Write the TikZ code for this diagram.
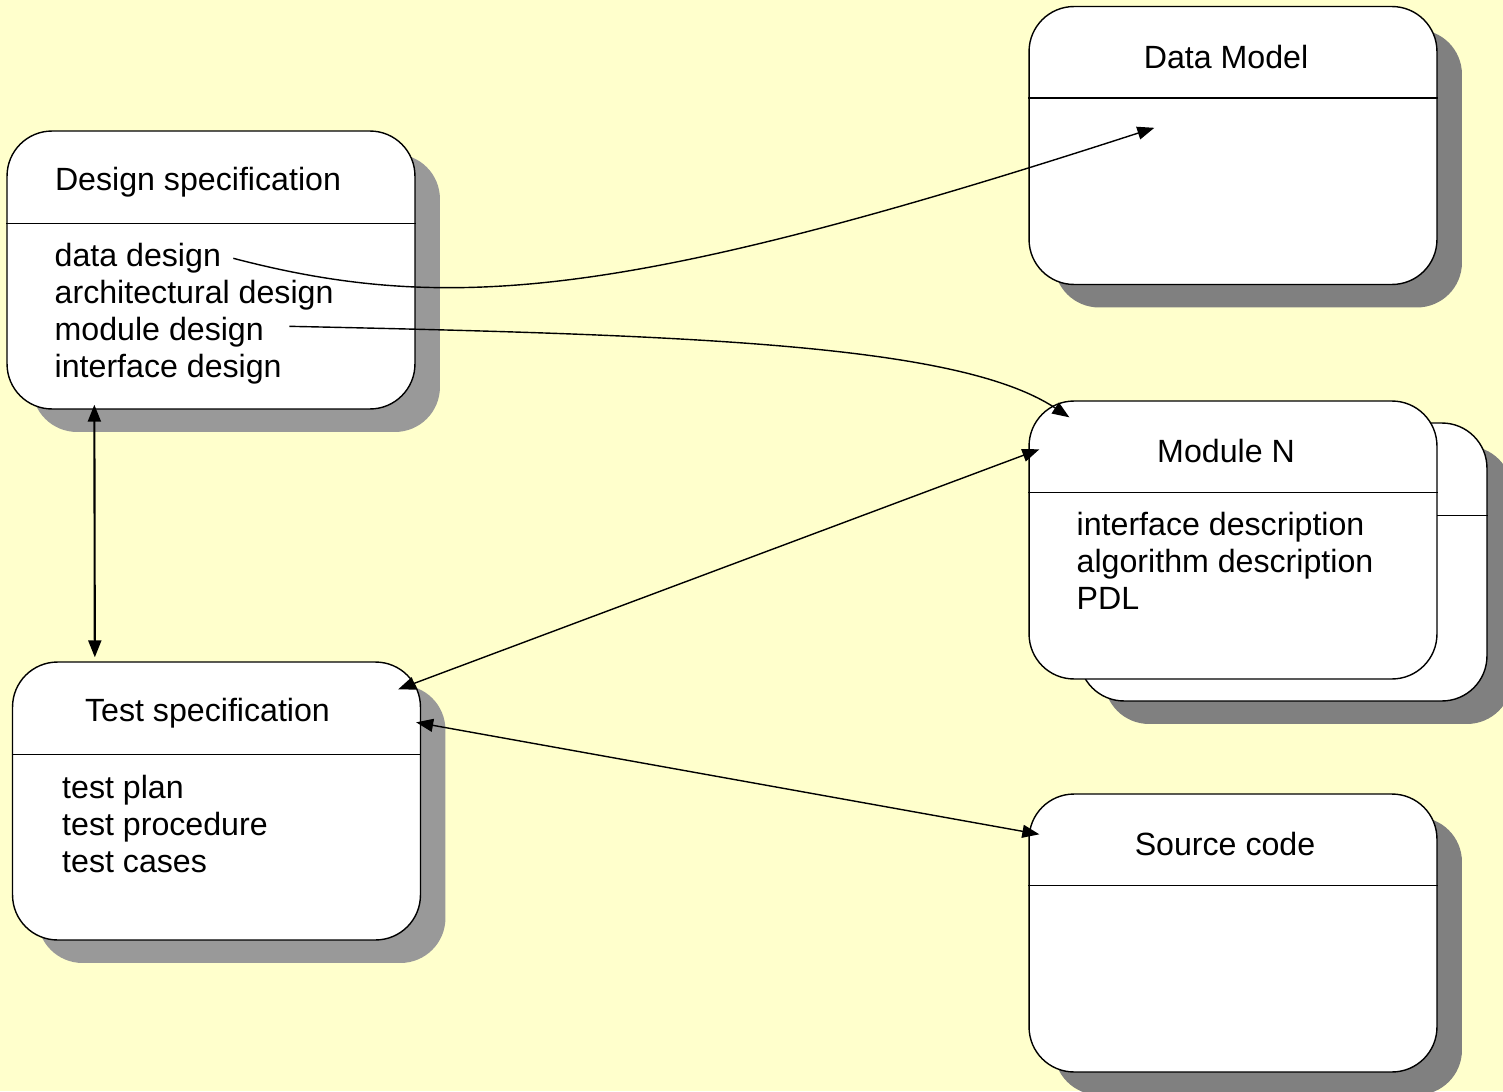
\documentclass[tikz,border=0pt]{standalone}
\usepackage{fontspec}
\setmainfont{Liberation Sans}
\setsansfont{Liberation Sans}
\usetikzlibrary{
  positioning,
  calc,
  shadows,
  arrows.meta}
\definecolor{bgcolor}{RGB}{255,255,204}
\definecolor{shadowlight}{RGB}{153,153,153}
\definecolor{shadowdark}{RGB}{128,128,128}
\tikzset{
  %% classbox : a rounded box with a heading
  classbox/.style={
    rectangle,
    rounded corners=0.9cm,
    draw=black,
    fill=white,
    line width=0.8pt,
    minimum width=8.16cm,
    minimum height=5.56cm
  },
  %% lightshadow : shadow of the boxes on the left
  lightshadow/.style={
    drop shadow={shadow xshift=0.5cm, shadow yshift=-0.46cm,
      fill=shadowlight, opacity=1}
  },
  %% darkshadow : shadow of the boxes on the right
  darkshadow/.style={
    drop shadow={shadow xshift=0.5cm, shadow yshift=-0.46cm,
      fill=shadowdark, opacity=1}
  },
  %% divider : line under the heading
  divider/.style={line width=0.8pt},
  %% boxtitle : heading of a box
  boxtitle/.style={anchor=center, inner sep=0pt},
  %% boxitems : contents of a box
  boxitems/.style={anchor=north west, align=left, inner sep=0pt},
  %% link : one way connection
  link/.style={
    line width=0.8pt,
    -{Triangle[length=0.34cm, width=0.26cm]}
  },
  %% dlink : two way connection
  dlink/.style={
    line width=0.8pt,
    {Triangle[length=0.34cm, width=0.26cm]}-{Triangle[length=0.34cm, width=0.26cm]}
  }
}

\begin{document}
\begin{tikzpicture}
  [x=0.02cm,
  y=-0.02cm,
  font=\fontsize{18.3}{21}\selectfont]
  \sffamily

  %% Background
  \fill [bgcolor] (0, 0) rectangle (1503, 1091);

  %% Design specification
  \node (design) [classbox, lightshadow] at (211, 270) {};
  \draw [divider] ($(design.north west) + (0, 93)$) --
  ($(design.north east) + (0, 93)$);
  \node (design-title) [boxtitle] at ($(design.north) + (-13, 52)$)
  {Design specification};
  \node (design-items) [boxitems] at ($(design.north west) + (48, 113)$){%
    data design\\
    architectural design\\
    module design\\
    interface design};

  %% Test specification
  \node (test) [classbox, lightshadow] at (216.5, 801) {};
  \draw [divider] ($(test.north west) + (0, 93)$) --
  ($(test.north east) + (0, 93)$);
  \node (test-title) [boxtitle] at ($(test.north) + (-9, 52)$)
  {Test specification};
  \node (test-items) [boxitems] at ($(test.north west) + (50, 114)$){%
    test plan\\
    test procedure\\
    test cases};

  %% Data Model
  \node (datamodel) [classbox, darkshadow] at (1233, 145.5) {};
  \draw [divider] ($(datamodel.north west) + (0, 92)$) --
  ($(datamodel.north east) + (0, 92)$);
  \node (datamodel-title) [boxtitle] at ($(datamodel.north) + (-7, 51)$)
  {Data Model};

  %% Module N (a stack of two boxes)
  \node (moduleback) [classbox, darkshadow] at (1283, 562) {};
  \draw [divider] ($(moduleback.north west) + (0, 93)$) --
  ($(moduleback.north east) + (0, 93)$);
  \node (module) [classbox] at (1233, 540) {};
  \draw [divider] ($(module.north west) + (0, 92)$) --
  ($(module.north east) + (0, 92)$);
  \node (module-title) [boxtitle] at ($(module.north) + (-7, 51)$)
  {Module N};
  \node (module-items) [boxitems] at ($(module.north west) + (48, 112)$){%
    interface description\\
    algorithm description\\
    PDL};

  %% Source code
  \node (source) [classbox, darkshadow] at (1233, 933) {};
  \draw [divider] ($(source.north west) + (0, 92)$) --
  ($(source.north east) + (0, 92)$);
  \node (source-title) [boxtitle] at ($(source.north) + (-8, 51)$)
  {Source code};

  %% Connections
  \coordinate (dd-out) at ($(design.north west) + (227, 128)$);
  \coordinate (dm-in) at ($(datamodel.north west) + (126, 122)$);
  \draw [link] (dd-out) .. controls (450, 315) and (630, 298) .. (dm-in);

  \coordinate (md-out) at ($(design.north west) + (283, 196)$);
  \coordinate (mn-in) at ($(module.north west) + (41, 17)$);
  \draw [link] (md-out) .. controls (700, 335) and (960, 345) .. (mn-in);

  \draw [dlink, line width=1.2pt] ($(design.south west) + (88, -5)$) --
  ($(test.north west) + (83, -4)$);

  \draw [dlink] ($(module.north west) + (11, 49)$) --
  ($(test.north east) + (-23, 28)$);

  \draw [dlink] ($(test.north east) + (-5, 61)$) --
  ($(source.north west) + (11, 41)$);

\end{tikzpicture}
\end{document}
